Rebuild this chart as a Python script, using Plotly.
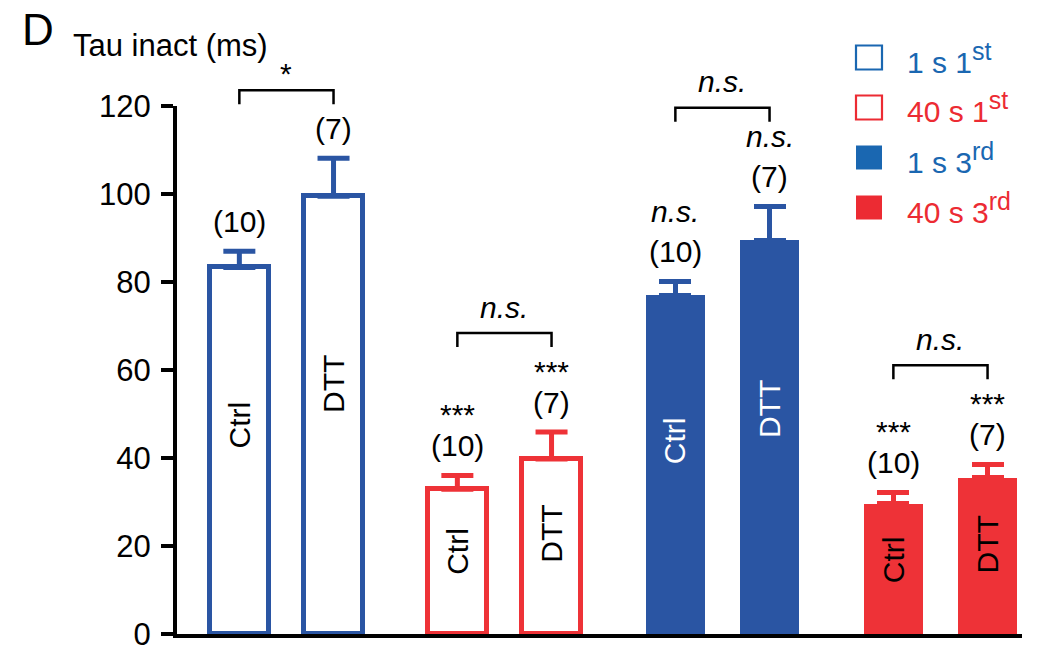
import plotly.graph_objects as go

# ---------------- data ----------------
conditions = ["1 s 1", "40 s 1", "1 s 3", "40 s 3"]
condition_sup = ["st", "st", "rd", "rd"]
treatments = ["Ctrl", "DTT"]
ctrl_mean = [83.3, 32.9, 77.0, 29.6]
ctrl_sem = [3.7, 3.1, 3.2, 2.5]
dtt_mean = [99.5, 39.8, 89.5, 35.5]
dtt_sem = [8.6, 6.1, 7.6, 3.1]
ctrl_n = [10, 10, 10, 10]
dtt_n = [7, 7, 7, 7]
ctrl_sig = ["", "***", "n.s.", "***"]
dtt_sig = ["", "***", "n.s.", "***"]
pair_sig = ["*", "n.s.", "n.s.", "n.s."]
y_ticks = [0, 20, 40, 60, 80, 100, 120]

# ---------------- style ----------------
BLUE = "#2A55A3"
RED = "#EE3237"
bar_colors = [BLUE, RED, BLUE, RED]
filled = [False, False, True, True]
legend_colors = ["#1A67B1", "#EC2B33", "#1A67B1", "#EC2B33"]
label_colors = ["black", "black", "white", "black"]

FONT = "Liberation Sans, Arial, sans-serif"
FS = 30
W, H = 1045, 651
ML, MR, MT, MB = 177, 23, 106, 17
X_RANGE = [-0.502, 3.374]
Y_RANGE = [0, 120]
HALF_SEP = 0.216
BAR_W = 0.272
LABEL_FRAC = 0.57
PLOT_W = W - ML - MR
PLOT_H = H - MT - MB
PX = PLOT_H / (Y_RANGE[1] - Y_RANGE[0])  # pixels per data unit


def xp(x):
    return (x - X_RANGE[0]) / (X_RANGE[1] - X_RANGE[0])


def yp(v):
    return (v - Y_RANGE[0]) / (Y_RANGE[1] - Y_RANGE[0])


def px_x(p):
    return (p - ML) / PLOT_W


def px_y(p):
    return (H - MB - p) / PLOT_H


fig = go.Figure()

for i, cond in enumerate(conditions):
    xs = [i - HALF_SEP, i + HALF_SEP]
    fig.add_trace(go.Bar(
        x=xs, y=[ctrl_mean[i], dtt_mean[i]], width=BAR_W,
        marker=dict(color=bar_colors[i] if filled[i] else "white",
                    line=dict(color=bar_colors[i], width=0 if filled[i] else 5)),
        error_y=dict(type="data", symmetric=False,
                     array=[ctrl_sem[i], dtt_sem[i]], arrayminus=[0, 0],
                     color=bar_colors[i], thickness=5, width=16),
        name=cond + condition_sup[i], showlegend=False, hoverinfo="skip",
    ))

annotations = []
shapes = []


def sig_text(s):
    return "<i>%s</i>" % s if s == "n.s." else s


def txt(x, y, text, yshift=0, angle=0, color="black", size=FS):
    return dict(x=xp(x), y=yp(y), xref="paper", yref="paper", text=text,
                showarrow=False, xanchor="center", yanchor="middle", yshift=yshift,
                textangle=angle, font=dict(size=size, color=color, family=FONT))


for i in range(len(conditions)):
    rows = [
        (i - HALF_SEP, ctrl_mean[i], ctrl_sem[i], ctrl_n[i], ctrl_sig[i], treatments[0]),
        (i + HALF_SEP, dtt_mean[i], dtt_sem[i], dtt_n[i], dtt_sig[i], treatments[1]),
    ]
    tops = []
    for (x, m, s, n, sig, lab) in rows:
        cap = m + s
        annotations.append(txt(x, cap, "(%d)" % n, yshift=30))
        if sig:
            shift = 61 if sig.startswith("*") else 70
            annotations.append(txt(x, cap, sig_text(sig), yshift=shift))
            top_px = 99
        else:
            top_px = 68
        tops.append(cap + top_px / PX)
        annotations.append(txt(x, m * LABEL_FRAC, lab, angle=-90, color=label_colors[i]))
    by = max(tops)
    drop = 14 / PX
    x1, x2 = xp(i - HALF_SEP), xp(i + HALF_SEP)
    y_hi, y_lo = yp(by), yp(by - drop)
    shapes.append(dict(type="path", xref="paper", yref="paper",
                       path="M %f,%f L %f,%f L %f,%f L %f,%f" % (x1, y_lo, x1, y_hi, x2, y_hi, x2, y_lo),
                       line=dict(color="black", width=2.5)))
    ps = pair_sig[i]
    annotations.append(txt(i, by, sig_text(ps), yshift=17 if ps.startswith("*") else 26))

# legend (drawn manually)
for k, cond in enumerate(conditions):
    cy = 57.5 + 50 * k
    shapes.append(dict(type="rect", xref="paper", yref="paper",
                       x0=px_x(856), x1=px_x(882), y0=px_y(cy + 12), y1=px_y(cy - 12),
                       fillcolor=legend_colors[k] if filled[k] else "white",
                       line=dict(color=legend_colors[k], width=0 if filled[k] else 2.2)))
    label = "%s<sup><span style='font-size:25px'>%s</span></sup>" % (cond, condition_sup[k])
    annotations.append(dict(x=px_x(905), y=px_y(cy), xref="paper", yref="paper",
                            text=label, showarrow=False, xanchor="left", yanchor="middle",
                            font=dict(size=FS, color=legend_colors[k], family=FONT)))

# panel letter and axis title
annotations.append(dict(x=px_x(20), y=px_y(29), xref="paper", yref="paper", text="D",
                        showarrow=False, xanchor="left", yanchor="middle",
                        font=dict(size=44, color="black", family=FONT)))
annotations.append(dict(x=px_x(71), y=px_y(45), xref="paper", yref="paper", text="Tau inact (ms)",
                        showarrow=False, xanchor="left", yanchor="middle",
                        font=dict(size=31, color="black", family=FONT)))

fig.update_layout(
    width=W, height=H,
    margin=dict(l=ML, r=MR, t=MT, b=MB, pad=0, autoexpand=False),
    paper_bgcolor="white", plot_bgcolor="white",
    font=dict(family=FONT, size=FS, color="black"),
    xaxis=dict(range=X_RANGE, showgrid=False, zeroline=False, showticklabels=False,
               ticks="", showline=True, linecolor="black", linewidth=4, fixedrange=True,
               automargin=False),
    yaxis=dict(range=Y_RANGE, tickvals=y_ticks, showgrid=False, zeroline=False,
               ticks="outside", ticklen=12, tickwidth=4, tickcolor="black",
               showline=True, linecolor="black", linewidth=4, ticklabelstandoff=4,
               ticklabeloverflow="allow", automargin=False,
               tickfont=dict(size=31, family=FONT, color="black"), fixedrange=True),
    annotations=annotations,
    shapes=shapes,
    bargap=0, showlegend=False,
)

fig.write_html("out.html", config={"displayModeBar": False},
               post_script="document.body.style.margin='0';document.body.style.overflow='hidden';")
